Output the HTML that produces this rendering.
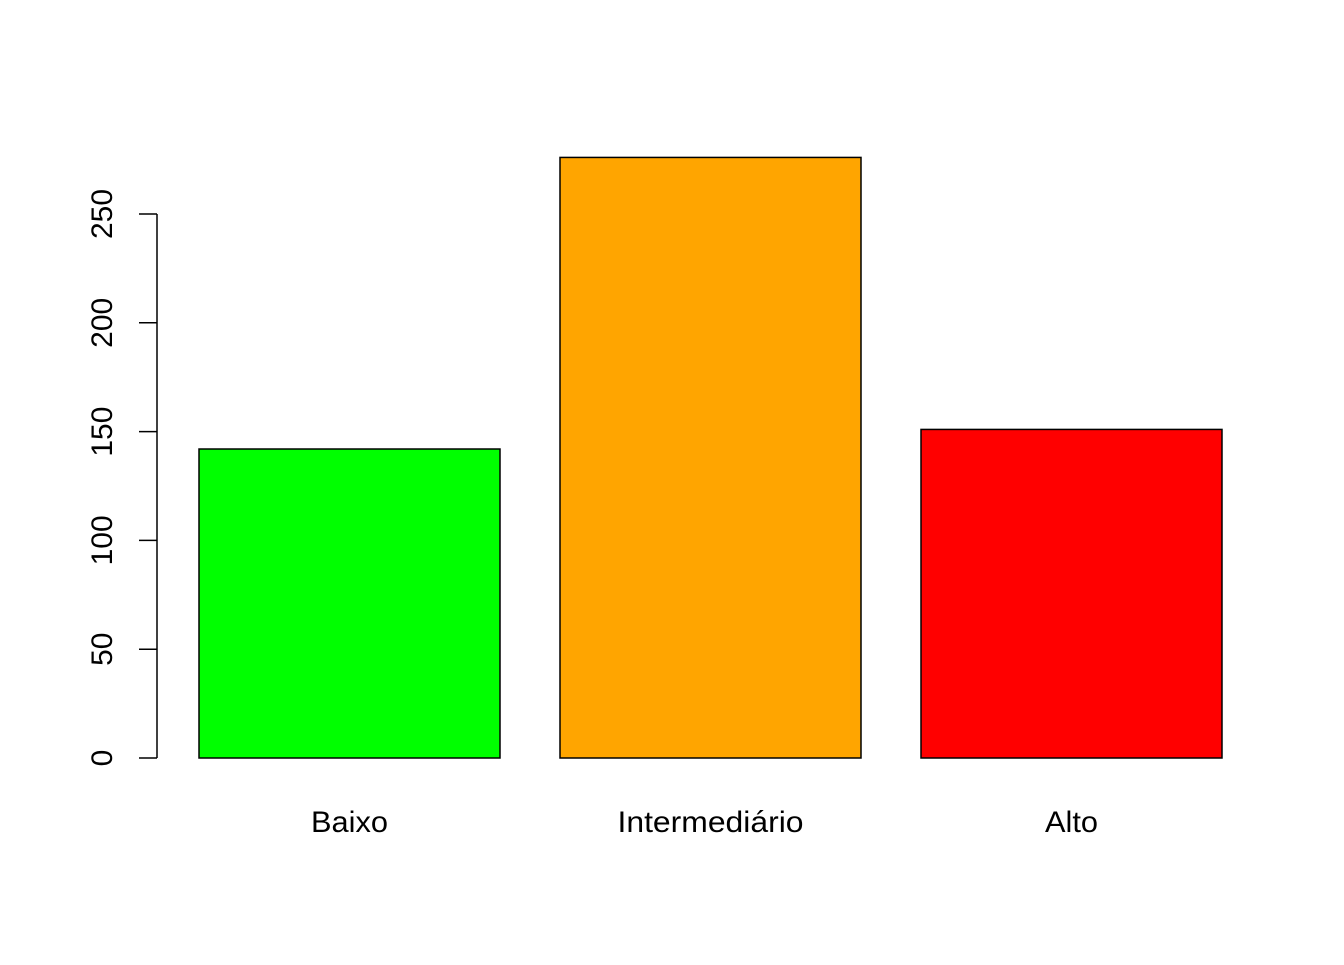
<!DOCTYPE html>
<html><head><meta charset="utf-8"><style>
body{margin:0;background:#fff}
svg text{font-family:"Liberation Sans",Arial,sans-serif;font-size:30px;fill:#000}
</style></head><body>
<svg id="chart" width="1344" height="960"></svg>
<script>
const categories=["Baixo","Intermediário","Alto"];
const values=[142,276,151];
const colors=["#00ff00","#ffa500","#ff0000"];
const yTicks=[0,50,100,150,200,250];
const labelWidths=[77,186,53];
const NS="http://www.w3.org/2000/svg";
const svg=document.getElementById('chart');
const y0=758, pxPerUnit=544/250;
function yScale(v){return y0-v*pxPerUnit;}
function xLeft(i){return 199+i*361;}
const barW=301;
function mk(t,a){const e=document.createElementNS(NS,t);for(const k in a)e.setAttribute(k,a[k]);svg.appendChild(e);return e;}
values.forEach((v,i)=>{
  const r=mk('rect',{x:xLeft(i),y:yScale(v),width:barW,height:y0-yScale(v),fill:colors[i],stroke:'#000','stroke-width':1.5});
  
  
  const t=mk('text',{x:xLeft(i)+barW/2,y:832,'text-anchor':'middle',textLength:labelWidths[i],lengthAdjust:'spacingAndGlyphs'});
  t.textContent=categories[i];
  
  
});
const ax=mk('line',{x1:157,x2:157,y1:yScale(yTicks[0]),y2:yScale(yTicks[yTicks.length-1]),stroke:'#000','stroke-width':1.5});


yTicks.forEach(v=>{
  const y=yScale(v);
  const l=mk('line',{x1:139,x2:157,y1:y,y2:y,stroke:'#000','stroke-width':1.5});
  
  
  const t=mk('text',{x:112,y:y,'text-anchor':'middle',transform:`rotate(-90 112 ${y})`});
  t.textContent=v;
  
  
});
</script>
</body></html>
